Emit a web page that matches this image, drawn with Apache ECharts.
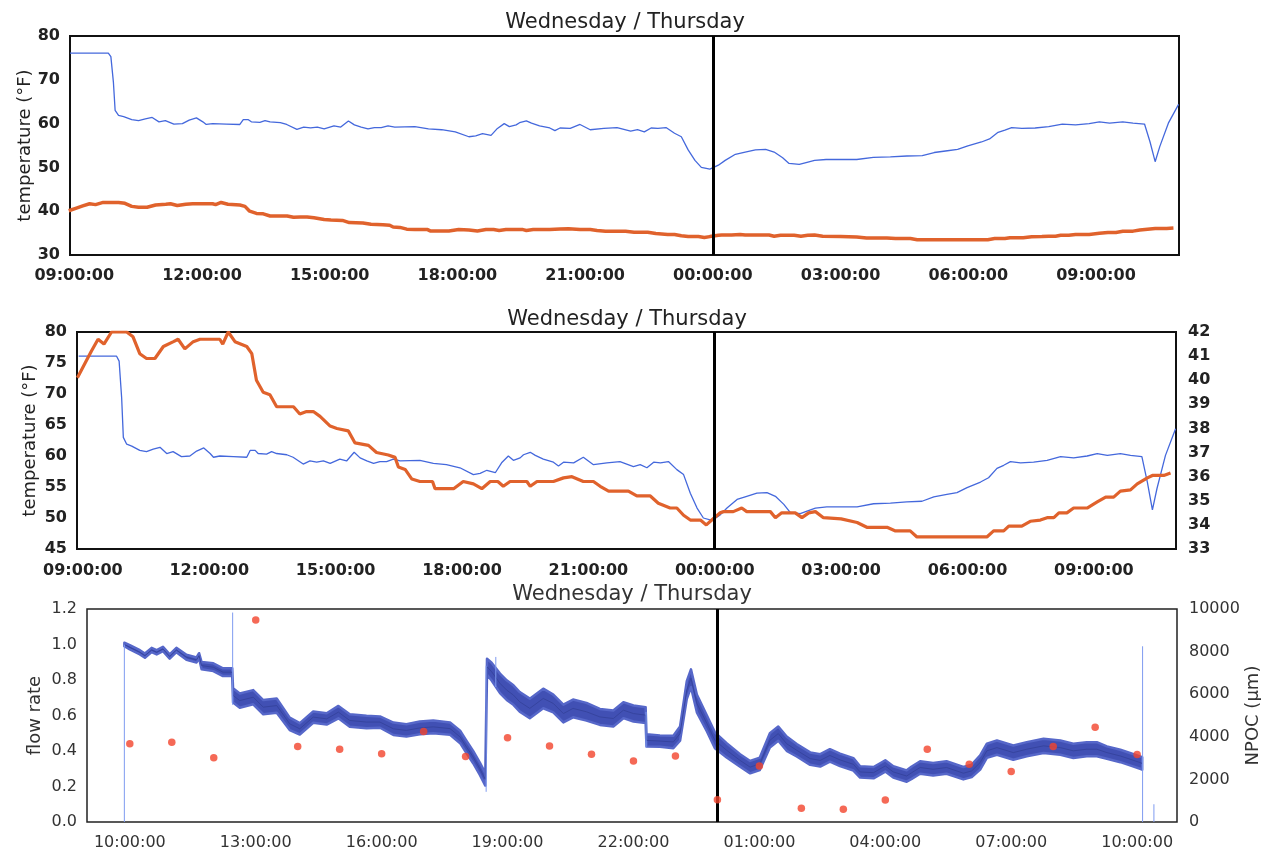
<!DOCTYPE html>
<html>
<head>
<meta charset="utf-8">
<title>Wednesday / Thursday</title>
<script src="https://cdn.jsdelivr.net/npm/echarts@6/dist/echarts.min.js"></script>
<style>
  html, body { margin: 0; padding: 0; background: #fff; }
  #main { width: 1261px; height: 850px; }
</style>
</head>
<body>
<div id="main"></div>
<script>
// time is hours after 09:00 on Wednesday
const blueTime = [-0.1, 0.8, 0.86, 0.92, 0.96, 1.04, 1.16, 1.35, 1.51, 1.67, 1.83, 1.99, 2.14, 2.34, 2.54, 2.7, 2.87, 3.02, 3.1, 3.25,
  3.57, 3.89, 3.97, 4.09, 4.16, 4.36, 4.48, 4.6, 4.84, 4.99, 5.23, 5.39, 5.55, 5.71, 5.87, 6.1, 6.26, 6.44, 6.58, 6.74,
  6.9, 7.05, 7.21, 7.37, 7.53, 8.0, 8.32, 8.63, 8.95, 9.27, 9.43, 9.59, 9.79, 9.94, 10.1, 10.22, 10.38, 10.46, 10.62, 10.74,
  10.93, 11.17, 11.29, 11.41, 11.65, 11.88, 12.12, 12.44, 12.75, 13.07, 13.23, 13.39, 13.55, 13.71, 13.9, 14.1, 14.26, 14.42, 14.58, 14.73,
  14.93, 15.13, 15.29, 15.53, 15.76, 16.0, 16.24, 16.44, 16.64, 16.79, 17.03, 17.19, 17.39, 17.66, 17.98, 18.38, 18.77, 19.17, 19.56, 19.92,
  20.2, 20.51, 20.75, 20.99, 21.31, 21.5, 21.7, 21.86, 22.02, 22.26, 22.57, 22.89, 23.21, 23.52, 23.84, 24.08, 24.32, 24.63, 24.87, 25.14,
  25.27, 25.39, 25.5, 25.7, 25.94];
const blueTemp = [76.1, 76.1, 75.3, 69.4, 63.0, 61.9, 61.6, 60.9, 60.7, 61.1, 61.4, 60.4, 60.7, 59.9, 60.0, 60.8, 61.3, 60.4, 59.8, 60.0,
  59.9, 59.8, 60.9, 60.9, 60.4, 60.3, 60.7, 60.4, 60.2, 59.8, 58.7, 59.2, 59.0, 59.2, 58.8, 59.5, 59.2, 60.6, 59.7, 59.2,
  58.8, 59.1, 59.1, 59.5, 59.2, 59.3, 58.8, 58.6, 58.1, 57.0, 57.2, 57.7, 57.3, 58.9, 60.0, 59.3, 59.7, 60.2, 60.6, 60.1,
  59.5, 59.0, 58.4, 59.0, 58.9, 59.8, 58.6, 58.9, 59.1, 58.3, 58.6, 58.1, 59.0, 58.9, 59.1, 57.8, 57.0, 54.0, 51.6, 50.0,
  49.6, 50.5, 51.6, 53.0, 53.5, 54.0, 54.1, 53.5, 52.2, 50.9, 50.7, 51.1, 51.6, 51.8, 51.8, 51.8, 52.3, 52.4, 52.6, 52.7,
  53.4, 53.8, 54.1, 54.9, 55.8, 56.5, 58.0, 58.5, 59.1, 58.9, 59.0, 59.3, 59.9, 59.7, 60.0, 60.4, 60.1, 60.4, 60.1, 59.9,
  55.8, 51.3, 54.8, 60.1, 64.4];

const orangeTime = [-0.13, 0.05, 0.2, 0.36, 0.5, 0.68, 1.04, 1.19, 1.35, 1.51, 1.71, 1.91, 2.15, 2.26, 2.42, 2.62, 2.78, 3.25, 3.32, 3.45,
  3.61, 3.89, 4.01, 4.12, 4.28, 4.44, 4.6, 5.0, 5.15, 5.31, 5.47, 5.63, 5.87, 6.03, 6.3, 6.46, 6.78, 6.97, 7.25, 7.41,
  7.49, 7.65, 7.81, 8.0, 8.3, 8.36, 8.8, 9.03, 9.27, 9.47, 9.67, 9.85, 9.98, 10.14, 10.54, 10.62, 10.78, 11.17, 11.41, 11.61,
  11.88, 12.12, 12.28, 12.48, 12.95, 13.15, 13.47, 13.66, 13.94, 14.1, 14.26, 14.42, 14.66, 14.8, 14.93, 15.13, 15.21, 15.44, 15.64, 15.76,
  16.32, 16.44, 16.59, 16.91, 17.07, 17.23, 17.39, 17.58, 18.0, 18.38, 18.61, 19.09, 19.29, 19.64, 19.8, 21.46, 21.62, 21.86, 21.98, 22.29,
  22.49, 22.73, 22.89, 23.05, 23.17, 23.36, 23.52, 23.84, 24.08, 24.28, 24.47, 24.63, 24.87, 25.03, 25.27, 25.39, 25.66, 25.82];
const orangeTemp = [40.1, 40.7, 41.2, 41.7, 41.5, 42.0, 42.0, 41.8, 41.1, 40.9, 40.9, 41.4, 41.6, 41.7, 41.3, 41.6, 41.7, 41.7, 41.5, 42.0,
  41.6, 41.4, 41.1, 40.0, 39.5, 39.4, 38.9, 38.9, 38.6, 38.7, 38.7, 38.5, 38.1, 38.0, 37.9, 37.4, 37.3, 37.0, 36.9, 36.8,
  36.4, 36.3, 35.9, 35.8, 35.8, 35.5, 35.5, 35.8, 35.7, 35.5, 35.8, 35.8, 35.6, 35.8, 35.8, 35.6, 35.8, 35.8, 35.95, 36.0,
  35.8, 35.8, 35.6, 35.4, 35.4, 35.2, 35.2, 34.9, 34.7, 34.7, 34.4, 34.2, 34.2, 34.0, 34.2, 34.5, 34.55, 34.55, 34.7, 34.55,
  34.55, 34.3, 34.5, 34.5, 34.3, 34.5, 34.55, 34.3, 34.25, 34.1, 33.9, 33.9, 33.75, 33.75, 33.5, 33.5, 33.75, 33.75, 33.95, 33.95,
  34.15, 34.2, 34.3, 34.3, 34.5, 34.5, 34.7, 34.7, 34.95, 35.15, 35.15, 35.4, 35.45, 35.7, 35.95, 36.05, 36.05, 36.15];

const flowTime = [0.87, 1.0, 1.24, 1.36, 1.52, 1.64, 1.79, 1.95, 2.11, 2.35, 2.59, 2.65, 2.71, 2.99, 3.22, 3.44, 3.46, 3.62, 3.94, 4.18,
  4.5, 4.81, 5.05, 5.37, 5.69, 5.97, 6.24, 6.64, 6.96, 7.28, 7.59, 7.91, 8.23, 8.63, 8.87, 9.02, 9.18, 9.34, 9.47, 9.51,
  9.62, 9.82, 9.98, 10.14, 10.29, 10.53, 10.85, 11.09, 11.33, 11.56, 11.88, 12.2, 12.52, 12.76, 13.0, 13.29, 13.31, 13.63, 13.95, 14.11,
  14.27, 14.37, 14.51, 14.75, 14.94, 15.22, 15.54, 15.78, 16.01, 16.25, 16.45, 16.65, 16.89, 17.21, 17.45, 17.68, 17.92, 18.24, 18.4, 18.72,
  19.0, 19.19, 19.51, 19.63, 19.83, 20.14, 20.46, 20.86, 21.06, 21.26, 21.42, 21.66, 22.05, 22.37, 22.77, 23.17, 23.48, 23.8, 24.04, 24.28,
  24.6, 24.83, 25.07, 25.12];
const flowRate = [1.0, 0.984, 0.956, 0.937, 0.969, 0.956, 0.975, 0.932, 0.969, 0.928, 0.913, 0.937, 0.881, 0.872, 0.844, 0.844, 0.713, 0.684, 0.703, 0.647,
  0.656, 0.553, 0.525, 0.591, 0.581, 0.619, 0.572, 0.563, 0.563, 0.525, 0.516, 0.53, 0.536, 0.526, 0.479, 0.423, 0.366, 0.3, 0.24, 0.875,
  0.847, 0.781, 0.743, 0.715, 0.677, 0.64, 0.696, 0.668, 0.611, 0.64, 0.621, 0.592, 0.583, 0.63, 0.611, 0.602, 0.46, 0.456, 0.451, 0.498,
  0.743, 0.81, 0.668, 0.555, 0.46, 0.404, 0.347, 0.309, 0.328, 0.46, 0.498, 0.441, 0.404, 0.357, 0.347, 0.375, 0.35, 0.325, 0.282, 0.278,
  0.316, 0.282, 0.259, 0.278, 0.307, 0.297, 0.307, 0.275, 0.288, 0.335, 0.401, 0.419, 0.391, 0.41, 0.429, 0.419, 0.401, 0.41, 0.41, 0.391,
  0.372, 0.354, 0.335, 0.33];
// half thickness of the noisy band
const flowSpread = [0.01, 0.012, 0.012, 0.012, 0.012, 0.012, 0.012, 0.012, 0.012, 0.014, 0.014, 0.014, 0.02, 0.022, 0.022, 0.022, 0.04, 0.04, 0.04, 0.04,
  0.04, 0.035, 0.032, 0.032, 0.032, 0.035, 0.035, 0.035, 0.032, 0.035, 0.035, 0.036, 0.036, 0.035, 0.035, 0.035, 0.035, 0.035, 0.035, 0.045,
  0.05, 0.055, 0.055, 0.055, 0.055, 0.055, 0.055, 0.05, 0.05, 0.05, 0.05, 0.045, 0.045, 0.045, 0.045, 0.045, 0.035, 0.032, 0.035, 0.04,
  0.05, 0.05, 0.05, 0.045, 0.045, 0.04, 0.035, 0.035, 0.035, 0.04, 0.04, 0.04, 0.035, 0.035, 0.035, 0.035, 0.035, 0.035, 0.032, 0.032,
  0.032, 0.032, 0.032, 0.035, 0.035, 0.035, 0.035, 0.035, 0.035, 0.04, 0.04, 0.04, 0.04, 0.04, 0.04, 0.04, 0.04, 0.04, 0.04, 0.035,
  0.035, 0.035, 0.035, 0.035];

const spikeTime = [0.87, 3.45, 9.49, 9.72, 13.3, 25.13, 25.4];
const spikeLow = [0.0, 0.66, 0.17, 0.76, 0.42, 0.0, 0.0];
const spikeHigh = [1.0, 1.18, 0.88, 0.93, 0.62, 0.99, 0.1];

const npocTime = [1, 2, 3, 4, 5, 6, 7, 8, 9, 10, 11, 12, 13, 14, 15, 16, 17, 18, 19, 20, 21, 22, 23, 24, 25];
const npocValue = [3670, 3750, 3020, 9480, 3550, 3410, 3200, 4250, 3080, 3950, 3570, 3180, 2860, 3100, 1050, 2630, 640, 600, 1030, 3420,
  2710, 2370, 3540, 4450, 3170];

const tempTicks = [0, 3, 6, 9, 12, 15, 18, 21, 24];
const flowTicks = [1, 4, 7, 10, 13, 16, 19, 22, 25];
const midnight = 15;
const titleText = 'Wednesday / Thursday';

function pairs(xs, ys) {
  return xs.map((x, i) => [x, ys[i]]);
}
function clock(v) {
  let h = (9 + Math.round(v)) % 24;
  return (h < 10 ? '0' : '') + h + ':00:00';
}

let chart = echarts.init(document.getElementById('main'));

const boldLabel = { fontFamily: 'DejaVu Sans', fontSize: 16, fontWeight: 'bold', color: '#222' };
const thinLabel = { fontFamily: 'DejaVu Sans', fontSize: 16, color: '#333' };
const frame = { show: true, borderColor: '#111', borderWidth: 2, backgroundColor: 'transparent', outerBoundsMode: 'none' };
const midLine = {
  silent: true, symbol: 'none', label: { show: false },
  lineStyle: { color: '#000', width: 3, type: 'solid' },
  data: [{ xAxis: midnight }]
};

function timeAxis(grid, min, ticks, label, margin) {
  return {
    type: 'value', gridIndex: grid, min: min, max: 25.95,
    splitLine: { show: false }, axisTick: { show: false }, axisLine: { show: false },
    axisLabel: Object.assign({ customValues: ticks, margin: margin, formatter: clock }, label)
  };
}
function valueAxis(grid, pos, min, max, step, label, extra) {
  return Object.assign({
    type: 'value', gridIndex: grid, position: pos, min: min, max: max, interval: step,
    splitLine: { show: false }, axisTick: { show: false }, axisLine: { show: false },
    axisLabel: Object.assign({ margin: pos === 'right' ? 12 : 10, formatter: v => String(v) }, label)
  }, extra || {});
}
function axisName(text, gap, color) {
  return {
    name: text, nameLocation: 'middle', nameRotate: 90, nameGap: gap, nameMoveOverlap: false,
    nameTextStyle: { fontFamily: 'DejaVu Sans', fontSize: 18, color: color }
  };
}

let series = [
  { type: 'line', xAxisIndex: 0, yAxisIndex: 0, data: pairs(orangeTime, orangeTemp), showSymbol: false,
    lineStyle: { color: '#e0622c', width: 3.5 } },
  { type: 'line', xAxisIndex: 0, yAxisIndex: 0, data: pairs(blueTime, blueTemp), showSymbol: false,
    lineStyle: { color: '#4468dc', width: 1.3 }, markLine: midLine },
  { type: 'line', xAxisIndex: 1, yAxisIndex: 1, data: pairs(blueTime, blueTemp), showSymbol: false,
    lineStyle: { color: '#4468dc', width: 1.3 }, markLine: midLine },
  { type: 'line', xAxisIndex: 1, yAxisIndex: 2, data: pairs(orangeTime, orangeTemp), showSymbol: false,
    lineStyle: { color: '#e0622c', width: 3.2 } },
  // noisy flow band: one polygon through the axis scales
  { type: 'custom', xAxisIndex: 2, yAxisIndex: 3, data: pairs(flowTime, flowRate),
    encode: { x: 0, y: 1 },
    renderItem: function (params, api) {
      if (params.dataIndex !== 0) return null;
      let up = flowTime.map((t, i) => api.coord([t, flowRate[i] + flowSpread[i]]));
      let dn = flowTime.map((t, i) => api.coord([t, flowRate[i] - flowSpread[i]])).reverse();
      return { type: 'polygon', shape: { points: up.concat(dn) },
        style: { fill: '#4150b4', stroke: '#5667c9', lineWidth: 2.5, lineJoin: 'round' } };
    } },
  { type: 'line', xAxisIndex: 2, yAxisIndex: 3, data: pairs(flowTime, flowRate), showSymbol: false,
    lineStyle: { color: '#36449f', width: 1 }, markLine: midLine }
];
spikeTime.forEach((t, i) => {
  series.push({ type: 'line', xAxisIndex: 2, yAxisIndex: 3, showSymbol: false,
    data: [[t, spikeLow[i]], [t, spikeHigh[i]]], lineStyle: { color: '#7f9bf0', width: 1 } });
});
series.push({ type: 'scatter', xAxisIndex: 2, yAxisIndex: 4, data: pairs(npocTime, npocValue),
  symbolSize: 7.5, itemStyle: { color: '#f2442c' }, z: 5 });

let option = {
  animation: false,
  backgroundColor: '#fff',
  title: [
    { text: titleText, left: 625, top: 12, textAlign: 'center', padding: 0,
      textStyle: { fontFamily: 'DejaVu Sans', fontSize: 21, fontWeight: 'normal', color: '#222' } },
    { text: titleText, left: 627, top: 309, textAlign: 'center', padding: 0,
      textStyle: { fontFamily: 'DejaVu Sans', fontSize: 21, fontWeight: 'normal', color: '#222' } },
    { text: titleText, left: 632, top: 584, textAlign: 'center', padding: 0,
      textStyle: { fontFamily: 'DejaVu Sans', fontSize: 21, fontWeight: 'normal', color: '#333' } }
  ],
  grid: [
    Object.assign({ left: 70, top: 36, width: 1109, height: 219 }, frame),
    Object.assign({ left: 77, top: 332, width: 1099, height: 217 }, frame),
    Object.assign({ left: 87, top: 609, width: 1090, height: 213 }, frame, { borderColor: '#222', borderWidth: 1.5 })
  ],
  xAxis: [
    timeAxis(0, -0.1, tempTicks, boldLabel, 13),
    timeAxis(1, -0.14, tempTicks, boldLabel, 14),
    timeAxis(2, -0.02, flowTicks, thinLabel, 13)
  ],
  yAxis: [
    valueAxis(0, 'left', 30, 80, 10, boldLabel, axisName('temperature (°F)', 36, '#222')),
    valueAxis(1, 'left', 45, 80, 5, boldLabel, axisName('temperature (°F)', 38, '#222')),
    valueAxis(1, 'right', 33, 42, 1, boldLabel),
    valueAxis(2, 'left', 0, 1.2, 0.2, Object.assign({}, thinLabel, { formatter: v => v.toFixed(1) }), axisName('flow rate', 43, '#333')),
    valueAxis(2, 'right', 0, 10000, 2000, thinLabel, axisName('NPOC (μm)', 67, '#333'))
  ],
  series: series
};
chart.setOption(option);
</script>
</body>
</html>
